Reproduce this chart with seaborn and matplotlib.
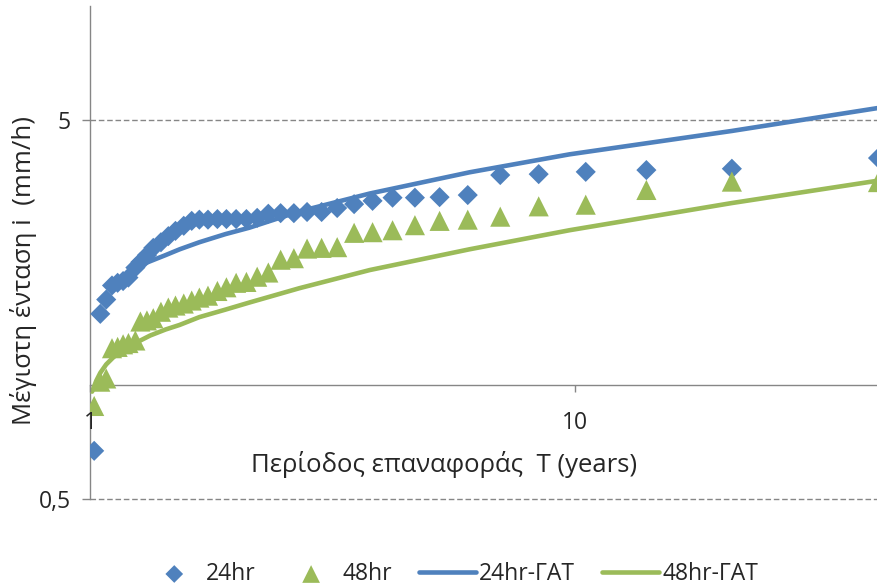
import matplotlib
matplotlib.use("Agg")
import matplotlib.pyplot as plt
import seaborn as sns

# return period T (years) of the 41 ranked observations
T = [1.02, 1.05, 1.08, 1.11, 1.14, 1.17, 1.2, 1.24, 1.27, 1.31, 1.35,
     1.4, 1.45, 1.5, 1.56, 1.62, 1.68, 1.75, 1.83, 1.91, 2.0, 2.1,
     2.21, 2.33, 2.47, 2.63, 2.8, 3.0, 3.23, 3.5, 3.82, 4.2, 4.67,
     5.25, 6.0, 7.0, 8.4, 10.5, 14.0, 21.0, 42.0]

# maximum intensity (mm/h)
i_24hr = [0.67, 1.54, 1.68, 1.83, 1.86, 1.88, 1.92, 2.04, 2.11, 2.20, 2.30,
          2.38, 2.47, 2.55, 2.63, 2.71, 2.73, 2.73, 2.74, 2.74, 2.74, 2.74,
          2.76, 2.83, 2.84, 2.84, 2.86, 2.86, 2.93, 3.00, 3.06, 3.12, 3.12,
          3.13, 3.17, 3.58, 3.60, 3.65, 3.69, 3.72, 3.97]
i_48hr = [0.88, 1.02, 1.04, 1.25, 1.26, 1.28, 1.29, 1.31, 1.47, 1.48, 1.50,
          1.56, 1.60, 1.62, 1.64, 1.67, 1.70, 1.72, 1.77, 1.81, 1.86, 1.87,
          1.93, 1.98, 2.14, 2.16, 2.29, 2.30, 2.31, 2.52, 2.53, 2.56, 2.64,
          2.71, 2.73, 2.78, 2.96, 2.99, 3.27, 3.44, 3.43]

# fitted curves
fit24_T = [1.24, 1.27, 1.33, 1.43, 1.53, 1.68, 1.9, 2.13, 2.7, 3.77,
           6.05, 9.72, 21.0, 42.0]
fit24_i = [2.03, 2.07, 2.12, 2.20, 2.28, 2.38, 2.50, 2.60, 2.87, 3.20,
           3.64, 4.06, 4.68, 5.38]
fit48_T = [1.01, 1.03, 1.05, 1.08, 1.115, 1.16, 1.21, 1.27, 1.33, 1.43,
           1.53, 1.68, 1.9, 2.13, 2.7, 3.77, 6.05, 9.72, 21.0, 42.0]
fit48_i = [0.96, 1.025, 1.076, 1.133, 1.18, 1.23, 1.27, 1.31, 1.35, 1.40,
           1.44, 1.51, 1.58, 1.65, 1.80, 2.01, 2.28, 2.56, 3.02, 3.46]

sns.set_style("white")
plt.rcParams['font.family'] = ['Open Sans', 'DejaVu Sans']

blue = '#4F81BD'
green = '#9BBB59'
grey = '#868686'
fs = 16.5
fs_title = 18.5

fig = plt.figure(figsize=(8.78, 5.86), dpi=100)
ax = fig.add_axes([90 / 878, 87 / 586, 788 / 878, 493 / 586])

sns.scatterplot(x=T, y=i_24hr, marker='D', s=105, color=blue, edgecolor='none',
                label='24hr', ax=ax, zorder=3)
sns.scatterplot(x=T, y=i_48hr, marker='^', s=210, color=green, edgecolor='none',
                label='48hr', ax=ax, zorder=3)
sns.lineplot(x=fit24_T, y=fit24_i, color=blue, linewidth=3.3, sort=False,
             estimator=None, label='24hr-ΓΑΤ', ax=ax, zorder=4)
sns.lineplot(x=fit48_T, y=fit48_i, color=green, linewidth=3.3, sort=False,
             estimator=None, label='48hr-ΓΑΤ', ax=ax, zorder=4)

ax.set_xscale('log')
ax.set_yscale('log')
ax.set_xlim(1, 42)
ax.set_ylim(0.5, 10)

ax.set_xticks([1, 10])
ax.set_xticklabels(['1', '10'])
ax.set_yticks([0.5, 5])
ax.set_yticklabels(['0,5', '5'])
ax.minorticks_off()

ax.spines['top'].set_visible(False)
ax.spines['right'].set_visible(False)
ax.spines['bottom'].set_position(('data', 1))
for sp in ['left', 'bottom']:
    ax.spines[sp].set_color(grey)
    ax.spines[sp].set_linewidth(1.0)

ax.tick_params(axis='x', direction='out', length=5, width=1, color=grey,
               pad=14, labelsize=fs, bottom=True)
ax.tick_params(axis='y', direction='out', length=6, width=1, color=grey,
               pad=8, labelsize=fs, left=True)
ax.xaxis.set_zorder(5)

ax.yaxis.grid(True, color=grey, linestyle=(0, (4, 2)), linewidth=1.0)
ax.xaxis.grid(False)
for gl in ax.yaxis.get_gridlines():
    gl.set_clip_on(False)

ax.set_xlabel('Περίοδος επαναφοράς  T (years)', fontsize=fs_title)
ax.xaxis.label.set_va('center')
ax.xaxis.set_label_coords(0.449, 0.07)
ax.set_ylabel('Μέγιστη ένταση i  (mm/h)', fontsize=fs_title)
ax.yaxis.label.set_va('center')
ax.yaxis.set_label_coords(-0.085, 0.4645)

ax.legend(loc='center', bbox_to_anchor=(452 / 878, 12 / 586),
          bbox_transform=fig.transFigure, ncol=4, frameon=False, fontsize=fs,
          handlelength=2.49, handletextpad=0.13, columnspacing=1.18,
          borderpad=0, markerscale=0.88)

fig.savefig('out.png', dpi=100)
